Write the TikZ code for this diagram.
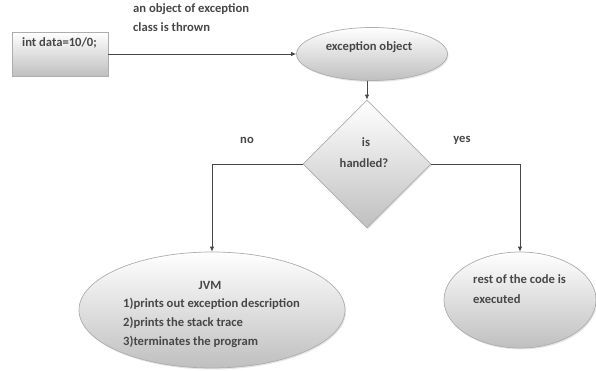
\documentclass[tikz,border=0pt]{standalone}
\usepackage{fontspec}
\setmainfont{Carlito}
\usetikzlibrary{shapes.geometric,arrows.meta,shadows}
\begin{document}
\begin{tikzpicture}[x=1pt,y=-1pt,
  txt/.style={font=\bfseries\fontsize{12.6}{14}\selectfont, text=black!72, inner sep=0pt},
  shp/.style={draw=black!32, line width=0.7pt, top color=white, bottom color=black!25,
    drop shadow={opacity=0.2,shadow xshift=1pt,shadow yshift=-1.5pt}},
  conn/.style={draw=black!72, line width=0.9pt, -{Latex[length=5pt,width=4.5pt]}}
]
\useasboundingbox (0,0) rectangle (596,371);
% shapes
\node[shp, rectangle, minimum width=96pt, minimum height=44pt, inner sep=0pt] (box) at (60,54) {};
\node[shp, ellipse, minimum width=151pt, minimum height=53pt, inner sep=0pt] (eo) at (372,54) {};
\node[shp, diamond, minimum width=128pt, minimum height=128pt, inner sep=0pt] (d) at (367,164) {};
\node[shp, ellipse, minimum width=266pt, minimum height=116pt, inner sep=0pt] (jvm) at (212,310) {};
\node[shp, ellipse, minimum width=152pt, minimum height=96pt, inner sep=0pt] (rest) at (520,300) {};
% texts
\node[txt, anchor=west] (boxt) at (22,43) {int data=10/0;};
\node[txt, anchor=west] (lab1) at (133,9) {an object of exception};
\node[txt, anchor=west] (lab2) at (133,27) {class is thrown};
\node[txt] (eot) at (369,47) {exception object};
\node[txt] (dt1) at (366,142) {is};
\node[txt] (dt2) at (364,163) {handled?};
\node[txt] (no) at (247,140) {no};
\node[txt] (yes) at (462,140) {yes};
\node[txt] (jvmt) at (210,285) {JVM};
\node[txt, anchor=west] (j1) at (123,304) {1)prints out exception\ description};
\node[txt, anchor=west] (j2) at (123,323) {2)prints the stack trace};
\node[txt, anchor=west] (j3) at (123,342) {3)terminates the program};
\node[txt, anchor=west] (r1) at (473,279) {rest of the code is};
\node[txt, anchor=west] (r2) at (473,299) {executed};
% connectors
\draw[conn] (box.east) -- (eo.west);
\draw[conn] (eo.south -| d.north) -- (d.north);
\draw[conn] (d.west) -| (jvm.north);
\draw[conn] (d.east) -| (rest.north);
\end{tikzpicture}
\end{document}
